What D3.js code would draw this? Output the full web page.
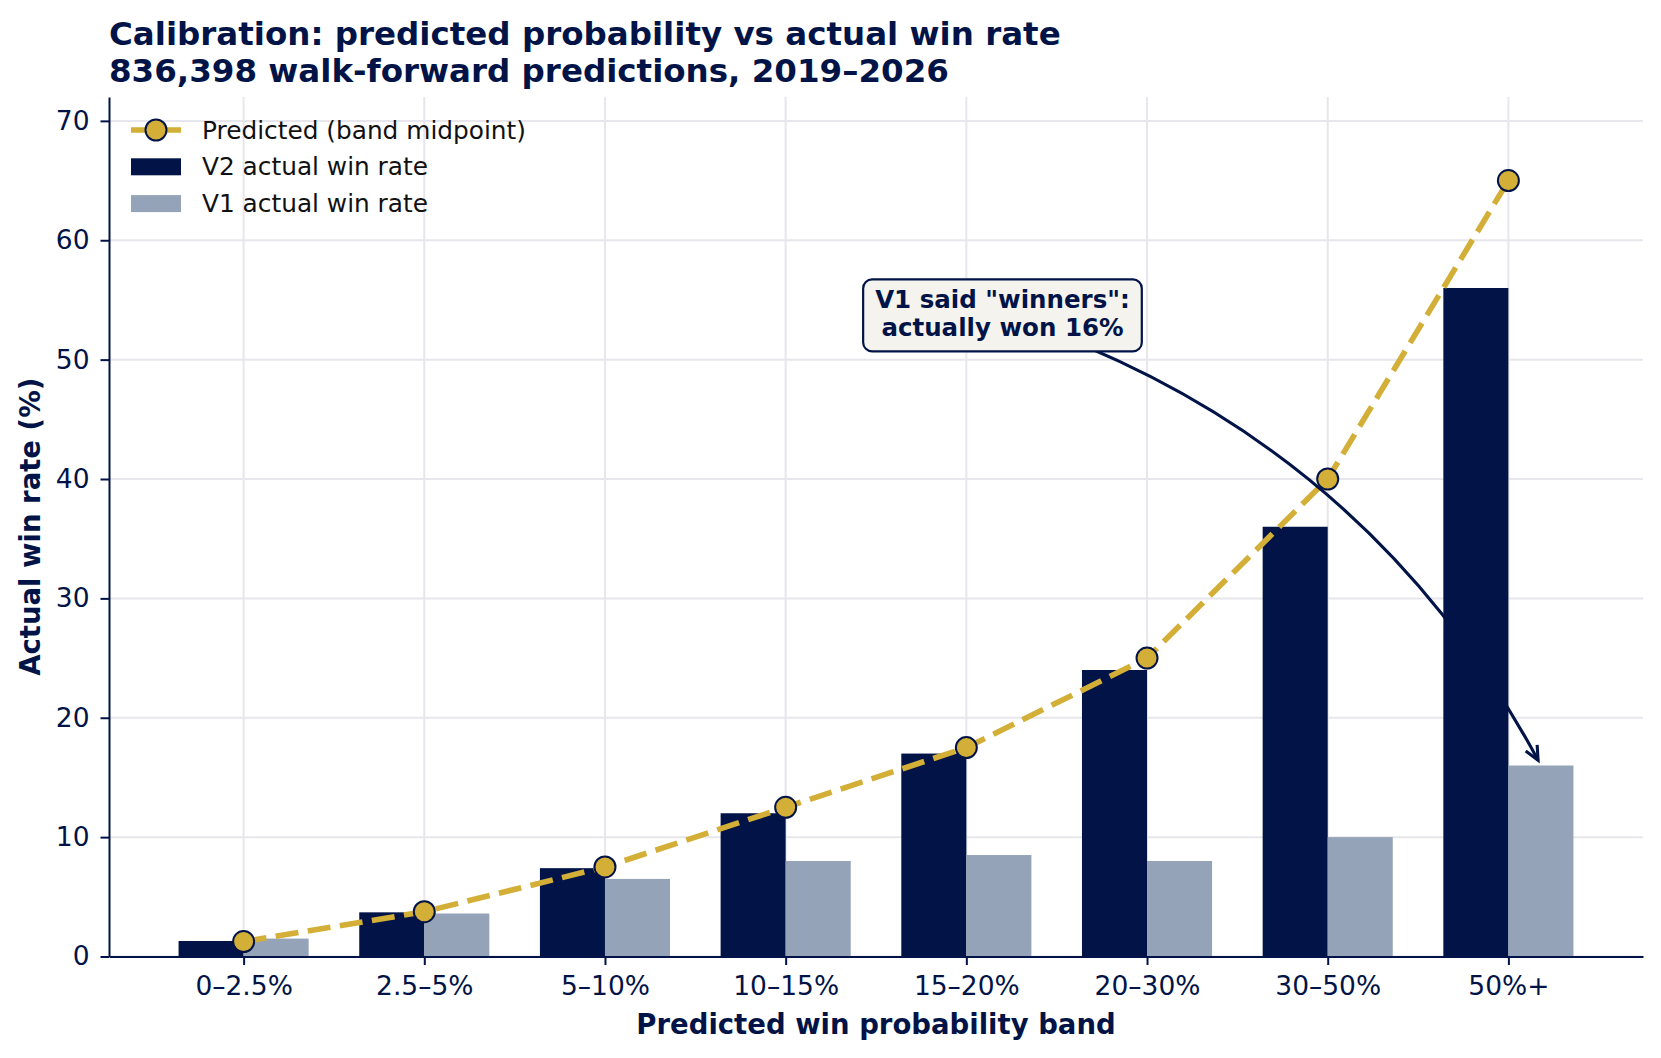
<!DOCTYPE html>
<html>
<head>
<meta charset="utf-8">
<script src="https://cdn.jsdelivr.net/npm/d3@7"></script>
<style>
  html, body { margin: 0; padding: 0; background: #fff; }
  svg { display: block; font-family: "DejaVu Sans", sans-serif; }
</style>
</head>
<body>
<div id="chart"></div>
<script>
const bands = ["0–2.5%", "2.5–5%", "5–10%", "10–15%", "15–20%", "20–30%", "30–50%", "50%+"];
const v2Rate = [1.3, 3.7, 7.4, 12, 17, 24, 36, 56];
const v1Rate = [1.5, 3.6, 6.5, 8, 8.5, 8, 10, 16];
const predicted = [1.25, 3.75, 7.5, 12.5, 17.5, 25, 40, 65];
const yTicks = [0, 10, 20, 30, 40, 50, 60, 70];

const titleLines = ["Calibration: predicted probability vs actual win rate",
                    "836,398 walk-forward predictions, 2019–2026"];
const noteLines = ['V1 said "winners":', "actually won 16%"];
const noteText = [4.2, 53.7];   // data coords of the text centre
const noteTarget = [7.18, 16];  // tip of the arrow

const NAVY = "#021447";
const SLATE = "#94a3b8";
const GOLD = "#d4af37";
const GRID = "#e6e6ec";

const W = 1661, H = 1058;
const margin = { top: 97, right: 18, bottom: 101.5, left: 109 };
const width = W - margin.left - margin.right;
const height = H - margin.top - margin.bottom;

const svg = d3.select("#chart").append("svg")
  .attr("width", W)
  .attr("height", H);

const g = svg.append("g")
  .attr("transform", `translate(${margin.left},${margin.top})`);

const barW = 0.36;
const x = d3.scaleLinear().domain([-0.745, 7.745]).range([0, width]);
const y = d3.scaleLinear().domain([0, 72]).range([height, 0]);

// grid
g.append("g")
  .selectAll("line")
  .data(yTicks)
  .join("line")
  .attr("x1", 0).attr("x2", width)
  .attr("y1", d => y(d)).attr("y2", d => y(d))
  .attr("stroke", GRID).attr("stroke-width", 2);

g.append("g")
  .selectAll("line")
  .data(bands.map((b, i) => i))
  .join("line")
  .attr("x1", d => x(d)).attr("x2", d => x(d))
  .attr("y1", 0).attr("y2", height)
  .attr("stroke", GRID).attr("stroke-width", 2);

// bars
g.append("g")
  .selectAll("rect")
  .data(v2Rate)
  .join("rect")
  .attr("x", (d, i) => x(i - barW))
  .attr("width", (d, i) => x(i) - x(i - barW))
  .attr("y", d => y(d))
  .attr("height", d => y(0) - y(d))
  .attr("fill", NAVY);

g.append("g")
  .selectAll("rect")
  .data(v1Rate)
  .join("rect")
  .attr("x", (d, i) => x(i))
  .attr("width", (d, i) => x(i + barW) - x(i))
  .attr("y", d => y(d))
  .attr("height", d => y(0) - y(d))
  .attr("fill", SLATE);

// predicted line
const line = d3.line()
  .x((d, i) => x(i))
  .y(d => y(d));

const DASH = "23 9.5";
const LW = 5.6;

g.append("path")
  .datum(predicted)
  .attr("d", line)
  .attr("fill", "none")
  .attr("stroke", GOLD)
  .attr("stroke-width", LW)
  .attr("stroke-dasharray", DASH);

g.append("g")
  .selectAll("circle")
  .data(predicted)
  .join("circle")
  .attr("cx", (d, i) => x(i))
  .attr("cy", d => y(d))
  .attr("r", 10.5)
  .attr("fill", GOLD)
  .attr("stroke", NAVY)
  .attr("stroke-width", 2);

// axes
const xAxis = d3.axisBottom(x)
  .tickValues(d3.range(bands.length))
  .tickFormat(i => bands[i])
  .tickSizeInner(8.5)
  .tickSizeOuter(0)
  .tickPadding(10);

const xg = g.append("g")
  .attr("transform", `translate(0,${height})`)
  .call(xAxis);

const yAxis = d3.axisLeft(y)
  .tickValues(yTicks)
  .tickSizeInner(8.5)
  .tickSizeOuter(0)
  .tickPadding(11);

const yg = g.append("g").call(yAxis);

[xg, yg].forEach(a => {
  a.select(".domain").attr("stroke", NAVY).attr("stroke-width", 2);
  a.selectAll(".tick line").attr("stroke", NAVY).attr("stroke-width", 2);
  a.selectAll(".tick text")
    .attr("fill", NAVY)
    .attr("font-size", 26.5)
    .attr("font-family", "DejaVu Sans");
});
xg.selectAll(".tick text").attr("dy", "0.75em");

// annotation arrow, arc from the text centre to the V1 bar of the top band
const p0 = [x(noteText[0]), y(noteText[1])];
const p2raw = [x(noteTarget[0]), y(noteTarget[1])];
const dx = p2raw[0] - p0[0], dy = p2raw[1] - p0[1];
const rad = 0.2;
const ctrl = [(p0[0] + p2raw[0]) / 2 + rad * dy, (p0[1] + p2raw[1]) / 2 - rad * dx];
const tx = p2raw[0] - ctrl[0], ty = p2raw[1] - ctrl[1];
const tl = Math.hypot(tx, ty);
const ux = tx / tl, uy = ty / tl;
const p2 = [p2raw[0] - ux * 6, p2raw[1] - uy * 6];

const arrowPath = d3.path();
arrowPath.moveTo(p0[0], p0[1]);
arrowPath.quadraticCurveTo(ctrl[0], ctrl[1], p2[0], p2[1]);

g.append("path")
  .attr("d", arrowPath.toString())
  .attr("fill", "none")
  .attr("stroke", NAVY)
  .attr("stroke-width", 3.1);

const headLen = 14, headHalf = 6.5;
const head = d3.path();
head.moveTo(p2[0] - ux * headLen - uy * headHalf, p2[1] - uy * headLen + ux * headHalf);
head.lineTo(p2[0], p2[1]);
head.lineTo(p2[0] - ux * headLen + uy * headHalf, p2[1] - uy * headLen - ux * headHalf);
g.append("path")
  .attr("d", head.toString())
  .attr("fill", "none")
  .attr("stroke", NAVY)
  .attr("stroke-width", 3.1)
  .attr("stroke-linejoin", "miter");

// annotation box + text (covers the start of the arrow)
const note = g.append("g");
const noteRect = note.append("rect")
  .attr("fill", "#f5f3ee")
  .attr("stroke", NAVY)
  .attr("stroke-width", 2.2)
  .attr("rx", 9).attr("ry", 9);
const noteT = note.append("text")
  .attr("text-anchor", "middle")
  .attr("font-size", 24.5)
  .attr("font-weight", "bold")
  .attr("fill", NAVY);
noteLines.forEach((t, i) => {
  noteT.append("tspan")
    .attr("x", p0[0])
    .attr("y", p0[1] - 7 + i * 27.5)
    .text(t);
});
const nb = noteT.node().getBBox();
noteRect
  .attr("x", nb.x - 12).attr("y", p0[1] - 36)
  .attr("width", nb.width + 24).attr("height", 72);

// axis titles
g.append("text")
  .attr("x", width / 2)
  .attr("y", height + 77)
  .attr("text-anchor", "middle")
  .attr("font-size", 27.5)
  .attr("font-weight", "bold")
  .attr("fill", NAVY)
  .text("Predicted win probability band");

g.append("text")
  .attr("transform", `translate(${40 - margin.left},${height / 2}) rotate(-90)`)
  .attr("text-anchor", "middle")
  .attr("font-size", 27.5)
  .attr("font-weight", "bold")
  .attr("fill", NAVY)
  .text("Actual win rate (%)");

// title
const title = svg.append("text")
  .attr("font-size", 32.5)
  .attr("font-weight", "bold")
  .attr("fill", NAVY);
titleLines.forEach((t, i) => {
  title.append("tspan")
    .attr("x", margin.left)
    .attr("y", 45 + i * 37)
    .text(t);
});

// legend
const legend = svg.append("g").attr("transform", "translate(131,130)");
const rowGap = 36.8;

legend.append("line")
  .attr("x1", 0).attr("x2", 50)
  .attr("stroke", GOLD)
  .attr("stroke-width", LW)
  .attr("stroke-dasharray", DASH);
legend.append("circle")
  .attr("cx", 25).attr("r", 10.5)
  .attr("fill", GOLD).attr("stroke", NAVY).attr("stroke-width", 2);

legend.append("rect")
  .attr("x", 0).attr("y", rowGap - 8.5)
  .attr("width", 50).attr("height", 17)
  .attr("fill", NAVY);
legend.append("rect")
  .attr("x", 0).attr("y", 2 * rowGap - 8.5)
  .attr("width", 50).attr("height", 17)
  .attr("fill", SLATE);

["Predicted (band midpoint)", "V2 actual win rate", "V1 actual win rate"].forEach((t, i) => {
  legend.append("text")
    .attr("x", 71)
    .attr("y", i * rowGap + 8.5)
    .attr("font-size", 24.8)
    .attr("fill", "#111")
    .text(t);
});
</script>
</body>
</html>
